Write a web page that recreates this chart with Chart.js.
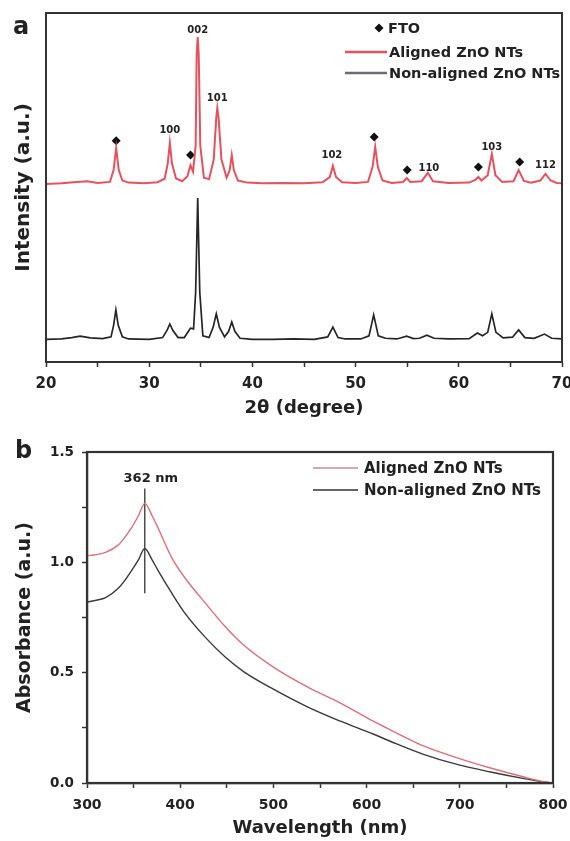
<!DOCTYPE html>
<html><head><meta charset="utf-8">
<script src="https://cdn.jsdelivr.net/npm/chart.js@4"></script>
<style>
html,body{margin:0;padding:0;background:#fff;}
#wrap{position:relative;width:570px;height:841px;overflow:hidden;background:#fff;}
.cv{position:absolute;left:0;}
.pl{position:absolute;font:bold 24px "DejaVu Sans";line-height:1;color:#222;}
</style></head><body>
<div id="wrap">
<canvas id="c1" class="cv" width="570" height="420" style="top:0"></canvas>
<canvas id="c2" class="cv" width="570" height="421" style="top:420px"></canvas>
<div class="pl" style="left:13px;top:14px">a</div>
<div class="pl" style="left:15px;top:438px">b</div>
</div>
<script>
// ---------- Panel a : XRD (2θ in degree, intensity in a.u.) ----------
const alignedXRD = [
[20,51.0],[21.5,51.2],[23,51.6],[24,51.8],[25,51.3],[26.2,51.6],[26.55,55],[26.8,61.3],[27.05,55],[27.4,52],[28,51.4],
[29.5,51.2],[30.8,51.5],[31.5,52.5],[31.8,57],[32.0,62.8],[32.2,57],[32.6,52.6],[33.2,51.8],[33.7,53.2],[34.0,56.4],
[34.25,54.5],[34.5,62],[34.6,88],[34.7,93.1],[34.8,88],[34.95,62],[35.3,52.8],[35.8,52.4],[36.25,58],[36.5,70],
[36.6,72.8],[36.72,70],[37.0,58],[37.5,52.8],[37.8,55],[38.0,59.3],[38.2,55],[38.6,52],[39.5,51.4],[41,51.2],
[43,51.3],[45,51.2],[46.8,51.5],[47.5,53],[47.8,56.2],[48.1,53],[48.7,51.5],[50,51.3],[51.2,51.6],[51.65,56],
[51.9,61.7],[52.15,56],[52.6,52],[53.5,51.3],[54.6,51.6],[54.95,52.7],[55.3,51.6],[56.4,51.8],[57.0,54.2],[57.5,51.8],
[59,51.3],[61,51.4],[61.6,52.2],[61.9,53.0],[62.2,52.0],[62.8,53.5],[63.2,59.6],[63.55,53.5],[64.2,51.6],[65.3,51.8],
[65.8,55.0],[66.3,51.9],[67,51.4],[67.9,52],[68.4,53.9],[68.9,52],[69.5,51.3],[70,51.2]
];
const nonAlignedXRD = [
[20,6.5],[21.5,6.6],[22.5,7.0],[23.3,7.4],[24.3,6.9],[25.5,6.7],[26.3,7.2],[26.55,10.5],[26.77,14.9],[27.0,10.5],
[27.4,7.2],[28,6.6],[30,6.5],[31.3,7.0],[31.75,9.2],[32.0,10.9],[32.3,9.0],[32.8,7.0],[33.4,7.0],[33.8,8.8],[34.0,9.7],
[34.3,9.5],[34.5,20],[34.7,47.0],[34.9,20],[35.2,7.5],[35.8,7.0],[36.2,10.0],[36.5,13.8],[36.8,10.0],[37.3,7.2],
[37.7,8.8],[38.0,11.5],[38.3,8.8],[38.8,6.8],[40,6.5],[42,6.5],[44,6.6],[46,6.5],[47.3,7.2],[47.8,10.0],[48.3,7.0],
[49,6.6],[50.5,6.6],[51.3,7.5],[51.75,13.5],[52.2,7.5],[52.9,6.8],[54,6.6],[54.95,7.4],[55.6,6.7],[56.2,6.8],
[56.9,7.7],[57.6,6.8],[59,6.6],[61,6.7],[61.8,8.3],[62.3,7.5],[62.8,8.5],[63.2,13.8],[63.6,8.5],[64.3,6.9],
[65.2,7.1],[65.8,9.2],[66.4,7.0],[67.3,6.8],[68.3,8.0],[69,6.8],[70,6.6]
];
// FTO reflections marked with diamonds [2θ, intensity]
const ftoMarks = [[26.8,63.4],[34.0,59.3],[51.8,64.5],[55.0,55.0],[61.9,55.9],[65.9,57.3]];
// ZnO reflection labels [hkl, 2θ, intensity]
const peakLabels = [['002',34.7,95.1],['101',36.6,75.6],['100',32.0,66.5],['102',47.7,59.3],['110',57.1,55.6],['103',63.2,61.6],['112',68.4,56.4]];
const xrdTicks = [20,30,40,50,60,70];

// ---------- Panel b : Absorbance ----------
const wavelength = [300,310,320,333,340,348,355,362,370,376,391,405,427,448,468,500,537,572,607,626,661,698,733,769,790,800];
const absAligned = [1.03,1.035,1.045,1.077,1.11,1.158,1.21,1.267,1.21,1.158,1.02,0.93,0.815,0.71,0.625,0.525,0.434,0.362,0.28,0.24,0.168,0.113,0.068,0.027,0.006,0.0];
const absNonAligned = [0.82,0.828,0.84,0.88,0.915,0.964,1.01,1.063,1.01,0.965,0.86,0.77,0.66,0.572,0.505,0.425,0.344,0.28,0.222,0.188,0.13,0.083,0.05,0.02,0.005,0.0];
const peakWavelength = 362;
const peakMarker = [[362,1.335],[362,0.86]];
const absXTicks = [300,400,500,600,700,800];
const absYTicks = [0.0,0.5,1.0,1.5];

Chart.defaults.font.family = 'DejaVu Sans';
Chart.defaults.color = '#222';
const FONT = 'DejaVu Sans';
const AX = '#333';

function frame(chart, lw){
  const a = chart.chartArea, c = chart.ctx;
  c.save(); c.strokeStyle = AX; c.lineWidth = lw;
  c.strokeRect(a.left, a.top, a.right - a.left, a.bottom - a.top);
  c.restore();
}
function diamond(c, x, y, r){
  c.beginPath(); c.moveTo(x, y - r); c.lineTo(x + r, y); c.lineTo(x, y + r); c.lineTo(x - r, y); c.closePath(); c.fill();
}

const deco1 = {
  id:'deco1',
  afterDraw(chart){
    frame(chart, 2);
    const c = chart.ctx, xs = chart.scales.x, ys = chart.scales.y;
    c.save();
    c.fillStyle = '#222';
    c.font = 'bold 10px ' + FONT;
    c.textAlign = 'center'; c.textBaseline = 'middle';
    peakLabels.forEach(p => c.fillText(p[0], xs.getPixelForValue(p[1]), ys.getPixelForValue(p[2])));
    // legend
    c.font = 'bold 14.5px ' + FONT;
    c.textAlign = 'left';
    c.fillStyle = '#111';
    diamond(c, 379, 28, 4.5);
    c.fillStyle = '#222';
    c.fillText('FTO', 388, 29);
    c.lineWidth = 2.5;
    c.strokeStyle = '#e4525e';
    c.beginPath(); c.moveTo(345, 52); c.lineTo(387, 52); c.stroke();
    c.fillText('Aligned ZnO NTs', 389, 53);
    c.strokeStyle = '#6a6a78';
    c.beginPath(); c.moveTo(345, 73); c.lineTo(387, 73); c.stroke();
    c.fillText('Non-aligned ZnO NTs', 389, 74);
    c.restore();
  }
};

new Chart(document.getElementById('c1'), {
  type:'line',
  data:{datasets:[
    {label:'Aligned ZnO NTs', data: alignedXRD.map(p=>({x:p[0],y:p[1]})), borderColor:'#e4525e', borderWidth:2, pointRadius:0, tension:0},
    {label:'Non-aligned ZnO NTs', data: nonAlignedXRD.map(p=>({x:p[0],y:p[1]})), borderColor:'#252525', borderWidth:1.7, pointRadius:0, tension:0},
    {label:'FTO', type:'scatter', data: ftoMarks.map(p=>({x:p[0],y:p[1]})), pointStyle:'rectRot', pointRadius:4.5, backgroundColor:'#111', borderColor:'#111', borderWidth:0, showLine:false}
  ]},
  options:{
    responsive:false, animation:false, events:[],
    layout:{padding:{top:13,right:8,left:0,bottom:0}},
    plugins:{legend:{display:false}, tooltip:{enabled:false}},
    scales:{
      x:{type:'linear', min:20, max:70,
        afterBuildTicks(s){ const t=[]; for(let v=20; v<=70; v+=5) t.push({value:v}); s.ticks=t; },
        ticks:{autoSkip:false, maxRotation:0, padding:8, color:'#222', font:{size:15, weight:'bold'},
          callback:v => xrdTicks.includes(v) ? String(v) : ''},
        grid:{display:true, drawOnChartArea:false, tickLength:5, tickColor:AX, tickWidth:1.5},
        border:{color:AX, width:2},
        title:{display:true, text:'2θ (degree)', color:'#222', font:{size:18, weight:'bold'}, padding:{top:0,bottom:1}},
        afterFit(s){ s.height = 58; s.paddingLeft = 0; s.paddingRight = 0; }
      },
      y:{min:0, max:100,
        ticks:{display:false}, grid:{display:false},
        border:{color:AX, width:2},
        title:{display:true, text:'Intensity (a.u.)', color:'#222', font:{size:20, weight:'bold'}, padding:{top:12,bottom:0}},
        afterFit(s){ s.width = 46; s.paddingTop = 0; s.paddingBottom = 0; }
      }
    }
  },
  plugins:[deco1]
});

const deco2 = {
  id:'deco2',
  afterDraw(chart){
    frame(chart, 2.2);
    const c = chart.ctx, xs = chart.scales.x, ys = chart.scales.y;
    c.save();
    c.fillStyle = '#222';
    c.font = 'bold 13px ' + FONT;
    c.textAlign = 'center'; c.textBaseline = 'middle';
    c.fillText(peakWavelength + ' nm', xs.getPixelForValue(peakWavelength) + 6, ys.getPixelForValue(1.38));
    c.font = 'bold 15px ' + FONT;
    c.textAlign = 'left';
    c.lineWidth = 1.3;
    c.strokeStyle = '#c98a92';
    c.beginPath(); c.moveTo(313, 48); c.lineTo(358, 48); c.stroke();
    c.fillText('Aligned ZnO NTs', 364, 49);
    c.strokeStyle = '#333';
    c.beginPath(); c.moveTo(313, 70); c.lineTo(358, 70); c.stroke();
    c.fillText('Non-aligned ZnO NTs', 364, 71);
    c.restore();
  }
};

new Chart(document.getElementById('c2'), {
  type:'line',
  data:{datasets:[
    {label:'Aligned ZnO NTs', data: wavelength.map((w,i)=>({x:w,y:absAligned[i]})), borderColor:'#d9707a', borderWidth:1.4, pointRadius:0, cubicInterpolationMode:'monotone'},
    {label:'Non-aligned ZnO NTs', data: wavelength.map((w,i)=>({x:w,y:absNonAligned[i]})), borderColor:'#3a3a3a', borderWidth:1.4, pointRadius:0, cubicInterpolationMode:'monotone'},
    {label:'362 nm', data: peakMarker.map(p=>({x:p[0],y:p[1]})), borderColor:'#333', borderWidth:1.3, pointRadius:0}
  ]},
  options:{
    responsive:false, animation:false, events:[],
    layout:{padding:{top:32,right:17,left:0,bottom:0}},
    plugins:{legend:{display:false}, tooltip:{enabled:false}},
    scales:{
      x:{type:'linear', min:300, max:800,
        afterBuildTicks(s){ const t=[]; for(let v=300; v<=800; v+=50) t.push({value:v}); s.ticks=t; },
        ticks:{autoSkip:false, maxRotation:0, padding:9, color:'#222', font:{size:14, weight:'bold'},
          callback:v => absXTicks.includes(v) ? String(v) : ''},
        grid:{display:true, drawOnChartArea:false, tickLength:5, tickColor:AX, tickWidth:1.5},
        border:{color:AX, width:2.2},
        title:{display:true, text:'Wavelength (nm)', color:'#222', font:{size:18, weight:'bold'}, padding:{top:0,bottom:2}},
        afterFit(s){ s.height = 58; s.paddingLeft = 0; s.paddingRight = 0; }
      },
      y:{min:0, max:1.5,
        afterBuildTicks(s){ const t=[]; for(let k=0; k<=6; k++) t.push({value:k*0.25}); s.ticks=t; },
        ticks:{autoSkip:false, padding:8, color:'#222', font:{size:13.5, weight:'bold'},
          callback:v => absYTicks.some(t=>Math.abs(t-v)<1e-9) ? v.toFixed(1) : ''},
        grid:{display:true, drawOnChartArea:false, tickLength:5, tickColor:AX, tickWidth:1.5},
        border:{color:AX, width:2.2},
        title:{display:true, text:'Absorbance (a.u.)', color:'#222', font:{size:19, weight:'bold'}, padding:{top:14,bottom:0}},
        afterFit(s){ s.width = 87; s.paddingTop = 0; s.paddingBottom = 0; }
      }
    }
  },
  plugins:[deco2]
});
</script>
</body></html>
